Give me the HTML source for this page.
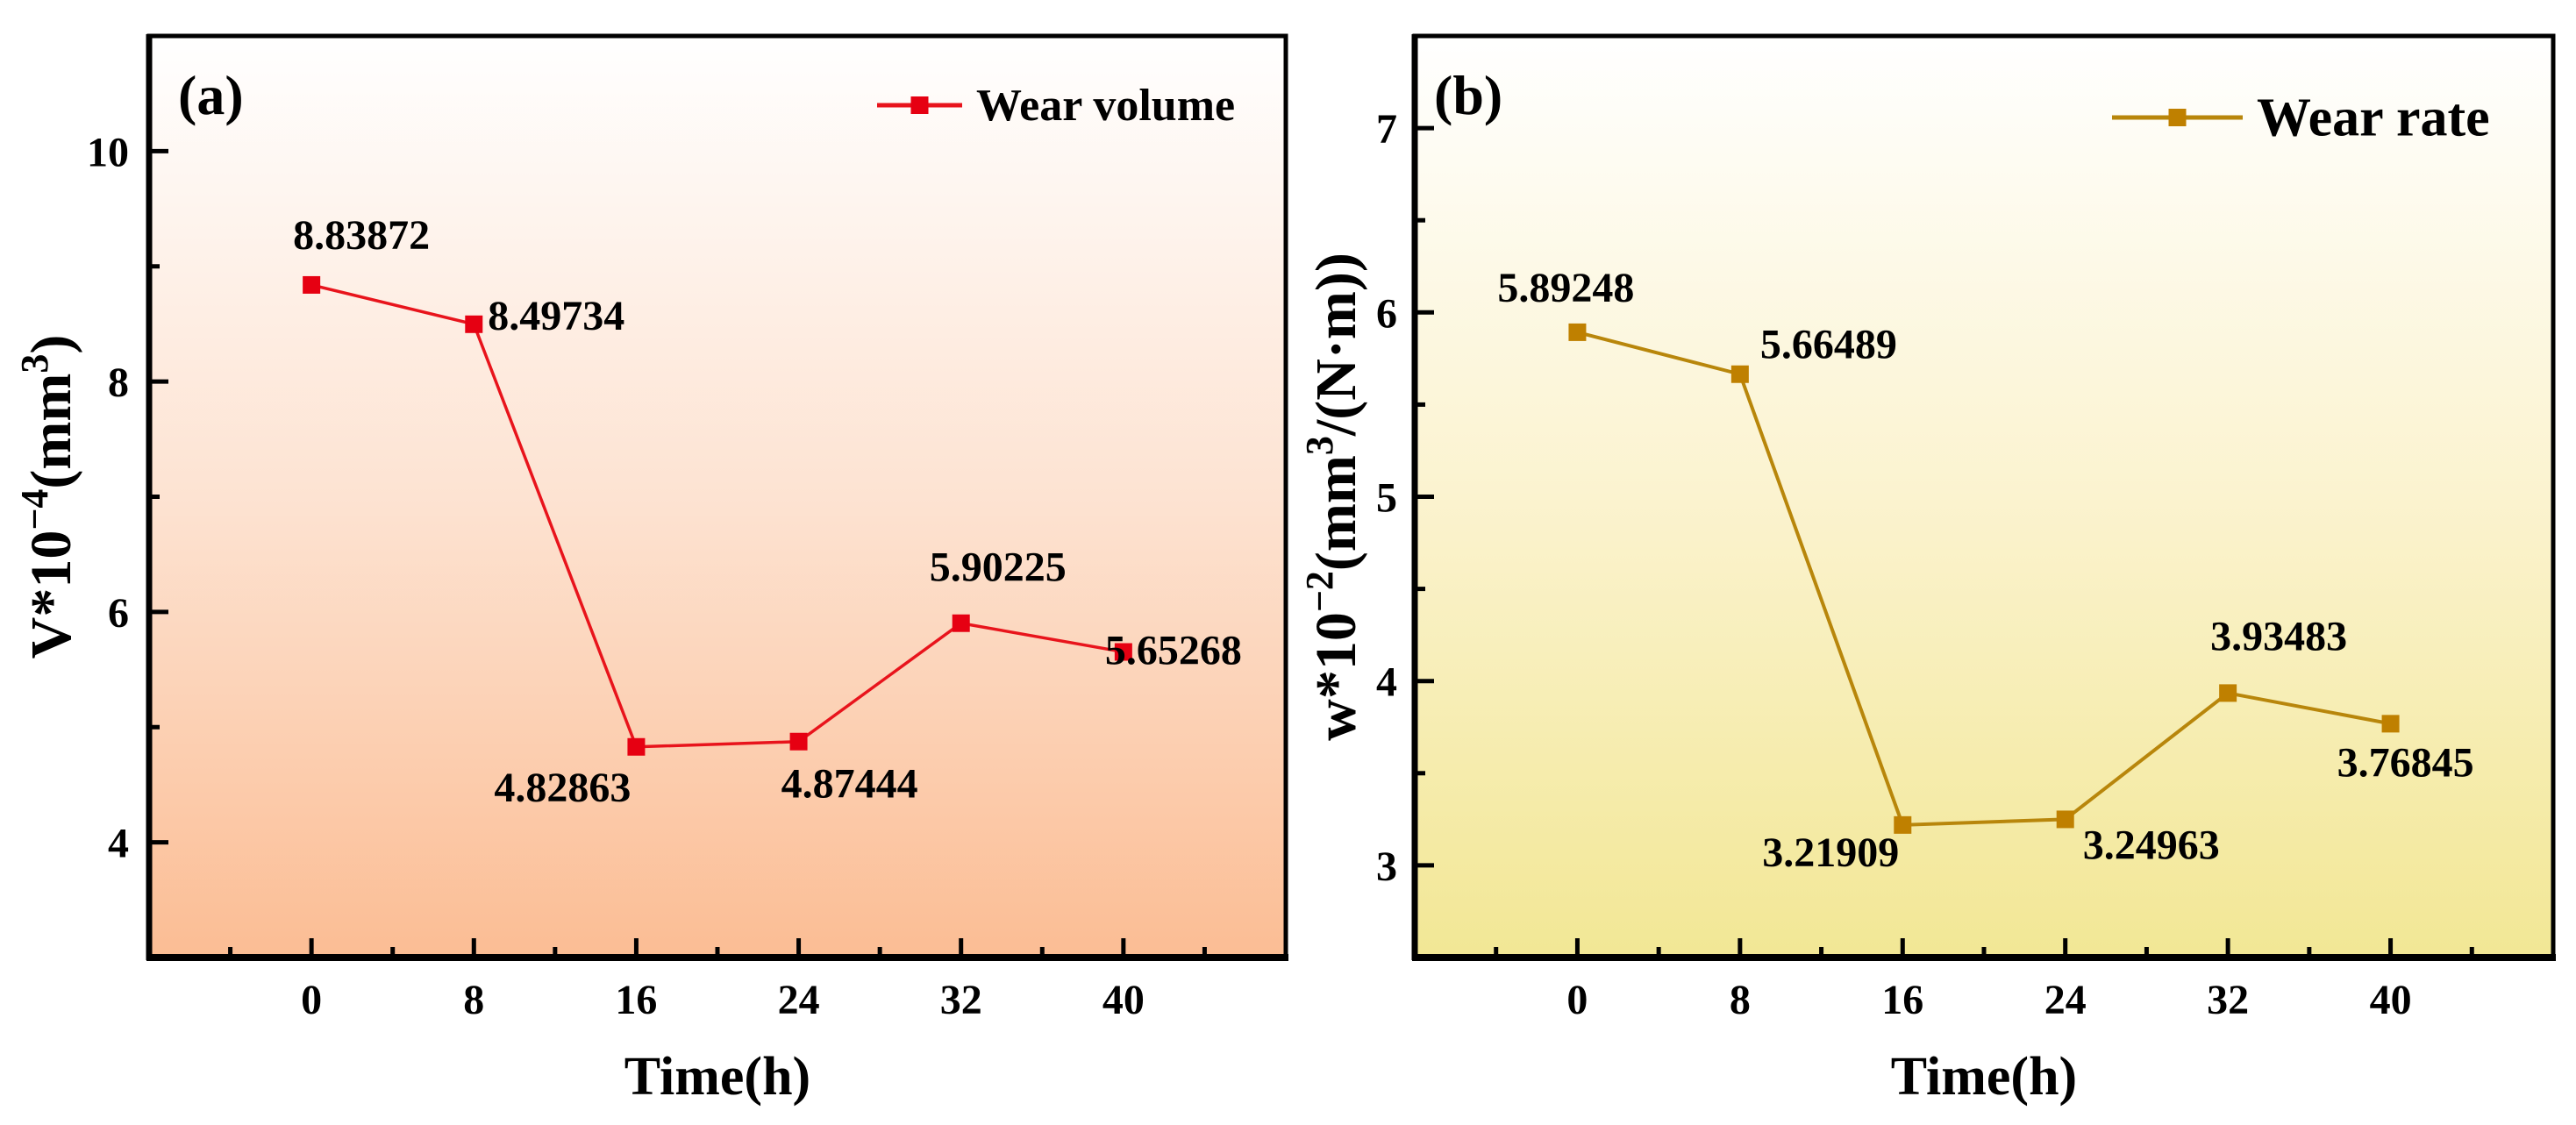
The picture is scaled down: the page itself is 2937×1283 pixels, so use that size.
<!DOCTYPE html>
<html><head><meta charset="utf-8">
<style>
html,body{margin:0;padding:0;background:#fff;}
svg{display:block;}
text{font-family:"Liberation Serif",serif;font-weight:bold;fill:#000;}
</style></head>
<body>
<svg id="fig" width="2937" height="1283" viewBox="0 0 2937 1283" xmlns="http://www.w3.org/2000/svg">
<defs>
<linearGradient id="gradA" x1="0" y1="0" x2="0" y2="1">
<stop offset="0" stop-color="#ffffff"/><stop offset="0.5" stop-color="#fde3d2"/><stop offset="1" stop-color="#fbbd94"/>
</linearGradient>
<linearGradient id="gradB" x1="0" y1="0" x2="0" y2="1">
<stop offset="0" stop-color="#ffffff"/><stop offset="0.5" stop-color="#fbf3cf"/><stop offset="1" stop-color="#f2e795"/>
</linearGradient>
</defs>
</svg>
<script>
const timesH = [0, 8, 16, 24, 32, 40];
const wearVolume = [8.83872, 8.49734, 4.82863, 4.87444, 5.90225, 5.65268];
const wearRate = [5.89248, 5.66489, 3.21909, 3.24963, 3.93483, 3.76845];
const volumeLabels = ["8.83872", "8.49734", "4.82863", "4.87444", "5.90225", "5.65268"];
const rateLabels = ["5.89248", "5.66489", "3.21909", "3.24963", "3.93483", "3.76845"];
const xTickLabels = ["0", "8", "16", "24", "32", "40"];
const yTicksA = [4, 6, 8, 10];
const yTicksB = [3, 4, 5, 6, 7];

const NS = "http://www.w3.org/2000/svg";
const svg = document.getElementById('fig');
function mk(tag, attrs, parent) {
  const e = document.createElementNS(NS, tag);
  for (const k in attrs) e.setAttribute(k, attrs[k]);
  (parent || svg).appendChild(e);
  return e;
}

function panel(cfg) {
  const g = mk('g', {});
  
  
  const L = cfg.left, R = cfg.right, T = 41, B = 1092;
  const xS = v => L + (v - (-8)) / 56 * (R - L);
  const yS = v => T + (cfg.yMax - v) / (cfg.yMax - cfg.yMin) * (B - T);

  const bg = mk('rect', {x: L, y: T, width: R - L, height: B - T, fill: cfg.grad}, g);
  
  

  const frame = mk('rect', {x: L, y: T, width: R - L, height: B - T, fill: 'none', stroke: '#000', 'stroke-width': 5}, g);
  
  
  const yAxis = mk('line', {x1: L, y1: T - 2, x2: L, y2: B + 3, stroke: '#000', 'stroke-width': 7}, g);
  
  
  const xAxis = mk('line', {x1: L - 3, y1: B, x2: R + 3, y2: B, stroke: '#000', 'stroke-width': 8}, g);
  
  

  for (let v = -4; v <= 44; v += 4) {
    const major = (v % 8 === 0);
    const t = mk('line', {x1: xS(v), y1: B, x2: xS(v), y2: B - (major ? 22 : 12), stroke: '#000', 'stroke-width': 5}, g);
    
    
  }
  timesH.forEach((v, i) => {
    const t = mk('text', {x: xS(v), y: 1156, 'font-size': 48, 'text-anchor': 'middle'}, g);
    t.textContent = xTickLabels[i];
    
    
  });
  for (let v = cfg.yMin; v <= cfg.yMax + 1e-9; v += cfg.minorStep) {
    const major = cfg.yTicks.some(m => Math.abs(m - v) < 1e-6);
    if (Math.abs(v - cfg.yMin) < 1e-6 || Math.abs(v - cfg.yMax) < 1e-6) continue;
    const t = mk('line', {x1: L, y1: yS(v), x2: L + (major ? 22 : 12), y2: yS(v), stroke: '#000', 'stroke-width': 5}, g);
    
    
  }
  cfg.yTicks.forEach(v => {
    const t = mk('text', {x: cfg.yLabelX, y: yS(v) + 17, 'font-size': 48, 'text-anchor': 'end'}, g);
    t.textContent = String(v);
    
    
  });

  const pts = timesH.map((t, i) => xS(t) + ',' + yS(cfg.values[i])).join(' ');
  const line = mk('polyline', {points: pts, fill: 'none', stroke: cfg.color, 'stroke-width': cfg.lw}, g);
  
  
  timesH.forEach((t, i) => {
    const m = mk('rect', {x: xS(t) - 10, y: yS(cfg.values[i]) - 10, width: 20, height: 20, fill: cfg.markerColor}, g);
    
    
    const lbl = mk('text', {x: xS(t) + cfg.lblOff[i][0], y: yS(cfg.values[i]) + cfg.lblOff[i][1], 'font-size': 48}, g);
    lbl.textContent = cfg.labels[i];
    
    
  });

  const lg = mk('g', {}, g);
  
  
  mk('line', {x1: cfg.legX, y1: cfg.legY, x2: cfg.legX + cfg.legW, y2: cfg.legY, stroke: cfg.color, 'stroke-width': 5}, lg);
  mk('rect', {x: cfg.legX + cfg.legW / 2 - 10, y: cfg.legY - 10, width: 20, height: 20, fill: cfg.markerColor}, lg);
  const lt = mk('text', {x: cfg.legX + cfg.legW + 16, y: cfg.legY + cfg.legFont * 0.33, 'font-size': cfg.legFont}, lg);
  lt.textContent = cfg.legend;
  
  

  const pl = mk('text', {x: cfg.letterX, y: 130, 'font-size': 64}, g);
  pl.textContent = cfg.letter;
  
  

  const xt = mk('text', {x: (L + R) / 2, y: 1248, 'font-size': 62, 'text-anchor': 'middle'}, g);
  xt.textContent = 'Time(h)';
  
  
  const yt = mk('text', {transform: 'translate(' + cfg.yTitleX + ',' + ((T + B) / 2) + ') rotate(-90)', 'font-size': 66, 'text-anchor': 'middle'}, g);
  yt.innerHTML = cfg.yTitle;
  
  
}

panel({
  name: 'panel-a', left: 170, right: 1466, yMin: 3, yMax: 11, yTicks: yTicksA, minorStep: 1,
  grad: 'url(#gradA)', values: wearVolume, labels: volumeLabels, color: '#e8141c', markerColor: '#e60012', lw: 3.5,
  seriesName: 'wear-volume', yLabelX: 147,
  lblOff: [[-21, -41], [16, 6], [-162, 62], [-20, 64], [-36, -48], [-21, 14]],
  legX: 1000, legY: 120, legW: 97, legFont: 52, legend: 'Wear volume',
  letter: '(a)', letterX: 203, yTitleX: 80,
  yTitle: 'V*10<tspan dy="-26" font-size="44">−4</tspan><tspan dy="26">(mm</tspan><tspan dy="-26" font-size="44">3</tspan><tspan dy="26">)</tspan>'
});
panel({
  name: 'panel-b', left: 1613, right: 2911, yMin: 2.5, yMax: 7.5, yTicks: yTicksB, minorStep: 0.5,
  grad: 'url(#gradB)', values: wearRate, labels: rateLabels, color: '#b8860b', markerColor: '#bf8000', lw: 4,
  seriesName: 'wear-rate', yLabelX: 1593,
  lblOff: [[-91, -35], [23, -18], [-160, 47], [20, 45], [-20, -49], [-61, 60]],
  legX: 2408, legY: 134, legW: 149, legFont: 62, legend: 'Wear rate',
  letter: '(b)', letterX: 1635, yTitleX: 1545,
  yTitle: 'w*10<tspan dy="-26" font-size="44">−2</tspan><tspan dy="26">(mm</tspan><tspan dy="-26" font-size="44">3</tspan><tspan dy="26">/(N·m))</tspan>'
});
</script>
</body></html>
